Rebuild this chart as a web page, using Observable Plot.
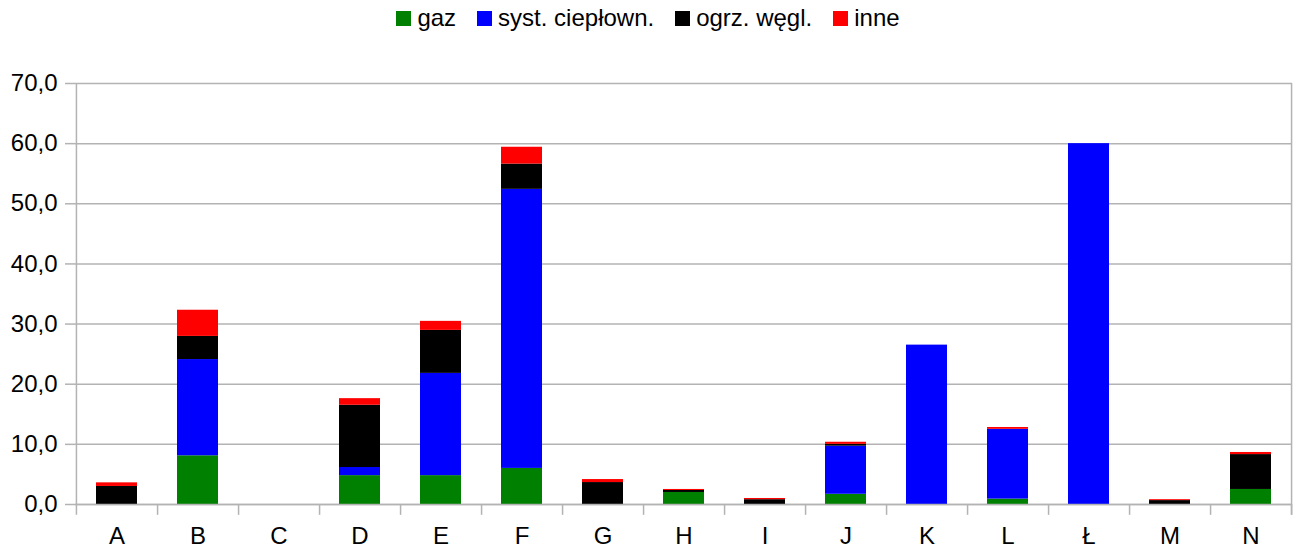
<!DOCTYPE html>
<html>
<head>
<meta charset="utf-8">
<script src="https://cdn.jsdelivr.net/npm/d3@7"></script>
<script src="https://cdn.jsdelivr.net/npm/@observablehq/plot@0.6"></script>
<style>
  html, body { margin: 0; padding: 0; background: #fff; }
  body { width: 1296px; height: 551px; overflow: hidden; font-family: "Liberation Sans", Arial, sans-serif; }
  #legend { height: 40px; display: flex; justify-content: center; align-items: center; font-size: 24px; color: #000; box-sizing: border-box; padding-bottom: 4px; }
  #legend .item { display: flex; align-items: center; margin: 0 10.5px; }
  #legend .sw { width: 15px; height: 15px; margin-right: 6px; display: inline-block; }
</style>
</head>
<body>
<div id="legend"></div>
<div id="chart"></div>
<script>
const categories = ["A","B","C","D","E","F","G","H","I","J","K","L","Ł","M","N"];
const seriesNames = ["gaz","syst. ciepłown.","ogrz. węgl.","inne"];
const seriesColors = ["#008000","#0000ff","#000000","#ff0000"];
const gaz     = [0,   8.1,  0, 4.8,  4.8,  6.0, 0,    2.0,  0,   1.7, 0,    0.9,  0,    0,    2.5];
const cieplow = [0,   16.0, 0, 1.35, 17.0, 46.4, 0,   0,    0,   8.0, 26.5, 11.6, 60.0, 0,    0];
const wegl    = [3.0, 3.85, 0, 10.35,7.15, 4.2, 3.65, 0.33, 0.8, 0.3, 0,    0,    0,    0.65, 5.8];
const inne    = [0.6, 4.35, 0, 1.1,  1.5,  2.8, 0.5,  0.17, 0.2, 0.35,0,    0.3,  0,    0.15, 0.35];
const yTicks = [0,10,20,30,40,50,60,70];

const seriesValues = [gaz, cieplow, wegl, inne];
const data = [];
seriesNames.forEach((s, si) => {
  categories.forEach((c, ci) => data.push({cat: c, series: s, value: seriesValues[si][ci]}));
});

// legend
const legend = document.getElementById("legend");
seriesNames.forEach((s, i) => {
  const it = document.createElement("span");
  it.className = "item";
  it.innerHTML = `<span class="sw" style="background:${seriesColors[i]}"></span><span>${s}</span>`;
  legend.appendChild(it);
});

const width = 1296, height = 511;
const marginLeft = 75, marginRight = 4, marginTop = 43, marginBottom = 47;
const step = (width - marginLeft - marginRight) / categories.length;
const grid = "#b3b3b3";

const chart = Plot.plot({
  width, height, marginLeft, marginRight, marginTop, marginBottom,
  style: {fontFamily: "'Liberation Sans', Arial, sans-serif", fontSize: "24px", color: "#000", background: "#fff"},
  x: {domain: categories, paddingInner: 0.5, paddingOuter: 0.25, label: null},
  y: {domain: [0, 70], ticks: yTicks, label: null},
  color: {domain: seriesNames, range: seriesColors},
  marks: [
    Plot.gridY(yTicks, {stroke: grid, strokeOpacity: 1, strokeWidth: 1.5}),
    Plot.barY(data, Plot.stackY({x: "cat", y: "value", fill: "series", order: seriesNames})),
    Plot.ruleY([0], {stroke: grid, strokeWidth: 1.5}),
    Plot.ruleX(categories, {x: d => d, dx: -step / 2, y1: 70, y2: -1.8, stroke: grid, strokeWidth: 1.5, filter: (d, i) => i === 0}),
    Plot.ruleX(categories, {x: d => d, dx: step / 2, y1: 70, y2: -1.8, stroke: grid, strokeWidth: 1.5, filter: (d, i) => i === categories.length - 1}),
    Plot.ruleX(categories, {x: d => d, dx: step / 2, y1: 0, y2: -1.8, stroke: grid, strokeWidth: 1.5}),
    Plot.axisY(yTicks, {tickSize: 10, tickPadding: 8, stroke: grid, strokeWidth: 1.5, tickFormat: d => d.toFixed(1).replace(".", ","), fontSize: 24, fill: "#000", label: null}),
    Plot.axisX({tickSize: 0, tickPadding: 22, fontSize: 24, fill: "#000", label: null})
  ]
});
document.getElementById("chart").appendChild(chart);
</script>
</body>
</html>
